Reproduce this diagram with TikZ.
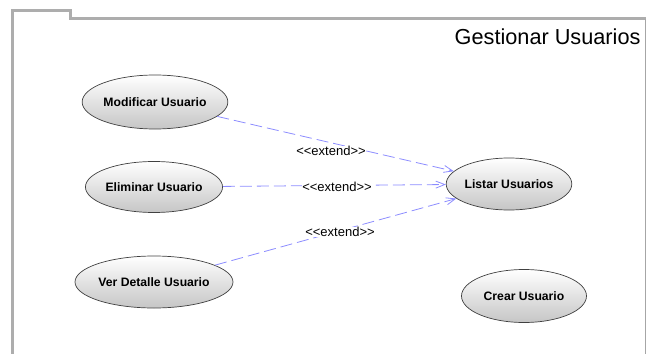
\documentclass[tikz,border=0pt]{standalone}
\usepackage{fontspec}
\setmainfont{Liberation Sans}
\usetikzlibrary{shapes.geometric,arrows.meta}
\begin{document}
\begin{tikzpicture}[x=1pt,y=-1pt,
  usecase/.style={ellipse,draw=black!75,line width=0.7pt,top color=white,bottom color=gray!45,
    inner sep=0pt,font=\fontsize{12.2}{14}\selectfont\bfseries},
  extendline/.style={draw=blue!45,line width=0.8pt,dash pattern=on 12pt off 5pt,
    -{Straight Barb[length=9pt,width=7pt,line width=0.8pt]}},
  extlabel/.style={font=\fontsize{13}{15}\selectfont,fill=white,inner sep=0.5pt},
  frameline/.style={draw=black!32,line width=3pt}]
\useasboundingbox (0,0) rectangle (647,353);
\draw[frameline] (12,355) -- (12,10.5) -- (70,10.5) -- (70,19) -- (646,19);
\draw[draw=black!35,line width=1pt] (645,19) -- (645,355);
\node[anchor=base east,font=\fontsize{21.7}{24}\selectfont] (title) at (644,45) {Gestionar Usuarios};
\node[usecase,minimum width=144pt,minimum height=54pt] (mod) at (155,102) {Modificar Usuario};
\node[usecase,minimum width=137pt,minimum height=51pt] (eli) at (154,187) {Eliminar Usuario};
\node[usecase,minimum width=158pt,minimum height=52pt] (ver) at (154,282) {Ver Detalle Usuario};
\node[usecase,minimum width=112pt,minimum height=52pt] (lis) at (509,184) {Listar Usuarios};
\node[usecase,minimum width=125pt,minimum height=53pt] (cre) at (524,296) {Crear Usuario};
\draw[extendline] (mod) -- (lis);
\draw[extendline] (eli) -- (lis);
\draw[extendline] (ver) -- (lis);
\node[extlabel] (l1) at (331,151) {{<}{<}extend{>}{>}};
\node[extlabel] (l2) at (337,187) {{<}{<}extend{>}{>}};
\node[extlabel] (l3) at (340,232) {{<}{<}extend{>}{>}};
\end{tikzpicture}
\end{document}
